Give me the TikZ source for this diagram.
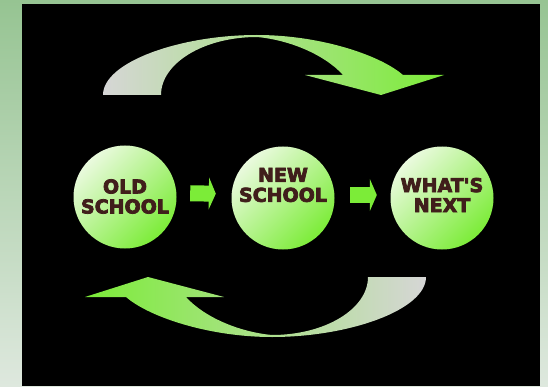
\documentclass[tikz,border=0pt]{standalone}
\usepackage{fontspec}
\newfontfamily\chunky{DejaVu Sans}[BoldFeatures={FakeBold=4}]
\usetikzlibrary{arrows.meta, positioning}

\definecolor{frameTop}{RGB}{150,196,146}
\definecolor{frameBot}{RGB}{222,232,222}
\definecolor{limeGreen}{RGB}{124,236,56}
\definecolor{midGreen}{RGB}{200,246,166}
\definecolor{paleGreen}{RGB}{234,250,222}
\definecolor{tailGray}{RGB}{214,214,214}
\definecolor{textBrown}{RGB}{64,30,27}

\tikzset{
  ball/.style={circle, minimum size=103pt, inner sep=0pt, top color=paleGreen, middle color=midGreen, bottom color=limeGreen, shading angle=45},
  caption/.style={align=center, text=textBrown, font=\chunky\bfseries\fontsize{19}{20}\selectfont},
  blockarrow/.style={line width=16pt, draw=limeGreen, -{Triangle[length=7pt,width=32pt]}},
}

% the curved loop arrow, tail on the left, head on the right
\newcommand{\loopshape}{(103,291) -- (161,291)
  .. controls (161,323) and (204,349) .. (257,349)
  .. controls (290,346) and (325,331) .. (343,311)
  -- (305,311) -- (381,291) -- (444,311) -- (403,311)
  .. controls (380,331) and (320,351) .. (257,351)
  .. controls (180,351) and (103,324) .. cycle}

\begin{document}
\begin{tikzpicture}[x=1pt, y=1pt]

        % Khung nền
        \useasboundingbox (0,0) rectangle (548,386);
        \shade[top color=frameTop, bottom color=frameBot] (0,0) rectangle (548,386);
        \fill[black] (22,0) rectangle (540,382);

        % Ba vòng tròn
        \node[ball] (old) at (125,189) {};
        \node[ball] (new) at (283,188) {};
        \node[ball] (next) at (442,188) {};

        % Chữ trong vòng tròn
        \node[caption] (oldtxt) at (125,189.5) {OLD\\SCHOOL};
        \node[caption] (newtxt) at (283,201) {NEW\\SCHOOL};
        \node[caption] (nexttxt) at (442,191) {WHAT'S\\NEXT};

        % Mũi tên giữa các vòng tròn
        \draw[blockarrow, shorten <=13.5pt, shorten >=15.5pt] ([yshift=4pt]old.east) -- ([yshift=4pt]new.west);
        \draw[blockarrow, shorten <=15.5pt, shorten >=13.5pt] ([yshift=3pt]new.east) -- ([yshift=3pt]next.west);

        % Mũi tên cong phía trên và phía dưới
        \shade[left color=tailGray, right color=limeGreen] \loopshape;
        \begin{scope}[rotate around={180:(264.5,200)}]
          \shade[left color=limeGreen, right color=tailGray] \loopshape;
        \end{scope}

\end{tikzpicture}
\end{document}
